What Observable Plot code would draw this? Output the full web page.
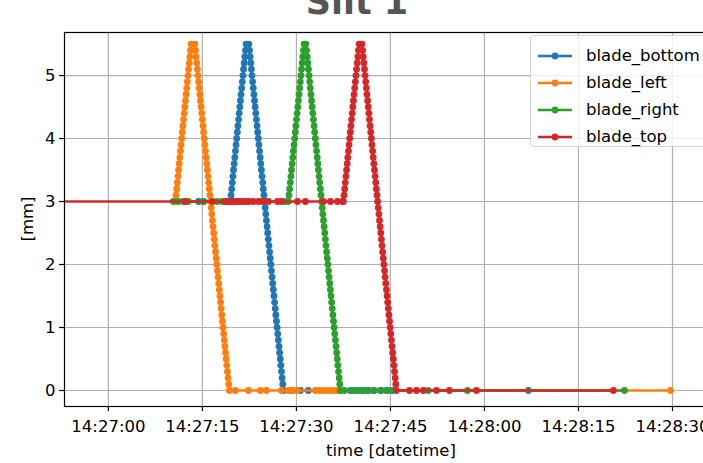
<!DOCTYPE html>
<html>
<head>
<meta charset="utf-8">
<script src="https://cdn.jsdelivr.net/npm/d3@7"></script>
<script src="https://cdn.jsdelivr.net/npm/@observablehq/plot@0.6"></script>
<style>
  html, body { margin: 0; padding: 0; background: #fff; overflow: hidden; }
  #wrap { position: relative; width: 703px; height: 463px; overflow: hidden; font-family: "DejaVu Sans", sans-serif; }
  #chart svg { max-width: none !important; display: block; }
  #legend { position: absolute; left: 530px; top: 35px; width: 200px; height: 112px; box-sizing: border-box;
            border: 1px solid #d4d4d4; border-radius: 4px; background: rgba(255,255,255,0.8); }
  .row { position: absolute; left: 0; height: 27px; display: flex; align-items: center; font-size: 16.5px; color: #000; white-space: nowrap; }
  .row svg { margin-left: 7px; margin-right: 14px; }
</style>
</head>
<body>
<div id="wrap"><div id="chart"></div><div id="legend"></div></div>
<script>
// ---- data (seconds after 14:27:00, values in mm) ----
const seriesNames = ["blade_bottom", "blade_left", "blade_right", "blade_top"];
const seriesColors = ["#1f77b4", "#ff7f0e", "#2ca02c", "#d62728"];
const holdLevel = 3;
const closedLevel = 0;
const sampleStep = 0.1; // s between samples while a blade moves

const riseValues = [3.0,3.1,3.2,3.3,3.4,3.5,3.6,3.7,3.8,3.9,4.0,4.1,4.2,4.3,4.4,4.5,4.6,4.7,4.8,4.9,5.0,5.1,5.2,5.3,5.4,5.5];
const fallValues = [5.5,5.4,5.3,5.2,5.1,5.0,4.9,4.8,4.7,4.6,4.5,4.4,4.3,4.2,4.1,4.0,3.9,3.8,3.7,3.6,3.5,3.4,3.3,3.2,3.1,3.0,
                    2.9,2.8,2.7,2.6,2.5,2.4,2.3,2.2,2.1,2.0,1.9,1.8,1.7,1.6,1.5,1.4,1.3,1.2,1.1,1.0,0.9,0.8,0.7,0.6,0.5,0.4,0.3,0.2,0.1,0.0];
const riseStart = [19.47, 10.7, 28.72, 37.5];
const fallStart = [22.42, 13.8, 31.52, 40.46];

const bottomHoldTimes = [14.4, 15.2, 19.1];
const bottomClosedTimes = [29.04, 30.64, 31.91, 38.6, 39.57, 40.53, 41.49, 42.44, 43.4, 44.36, 45.32, 67.02];
const leftHoldTimes = [];
const leftClosedTimes = [20.26, 22.34, 24.25, 25.21, 27.6, 28.72, 29.52, 30.16, 33.03, 33.67, 34.31, 34.95, 35.59, 36.23, 36.71, 89.68];
const rightHoldTimes = [10.37, 11.17, 11.97, 12.77, 15.16, 17.39, 18.19, 18.99, 19.95, 28.24];
const rightClosedTimes = [37.66, 38.93, 40.05, 41.17, 42.28, 43.56, 44.68, 51.06, 57.28, 82.34];
const topHoldTimes = [-10, 12.29, 16.6, 18.67, 19.15, 19.63, 20.1, 20.58, 21.06, 21.54, 22.02, 22.5, 23.14, 23.94, 24.57, 25.53, 26.97, 27.6, 30.16, 31.43, 34.31, 35.43, 36.54, 37.34];
const topClosedTimes = [48.03, 49.15, 50.26, 52.34, 54.41, 58.72, 80.58];

const tickSeconds = [0, 15, 30, 45, 60, 75, 90];
const yTicks = [0, 1, 2, 3, 4, 5];
const xDomainSeconds = [-7, 97.66];
const yDomain = [-0.254, 5.683];

// ---- build tables ----
const base = new Date(2000, 0, 1, 14, 27, 0);
const T = s => new Date(base.getTime() + s * 1000);
const holds = [bottomHoldTimes, leftHoldTimes, rightHoldTimes, topHoldTimes];
const closeds = [bottomClosedTimes, leftClosedTimes, rightClosedTimes, topClosedTimes];

const tables = seriesNames.map((name, i) => {
  const rows = [];
  holds[i].forEach(t => rows.push({t, v: holdLevel}));
  riseValues.forEach((v, k) => rows.push({t: riseStart[i] + k * sampleStep, v}));
  fallValues.forEach((v, k) => rows.push({t: fallStart[i] + k * sampleStep, v}));
  closeds[i].forEach(t => rows.push({t, v: closedLevel}));
  return rows.map(r => ({time: T(r.t), value: r.v, series: name}));
});

const marks = [
  Plot.gridX(tickSeconds.map(T), {stroke: "#b0b0b0", strokeOpacity: 1, strokeWidth: 1.2}),
  Plot.gridY(yTicks, {stroke: "#b0b0b0", strokeOpacity: 1, strokeWidth: 1.2})
];
tables.forEach((rows, i) => {
  marks.push(Plot.line(rows, {x: "time", y: "value", stroke: seriesColors[i], strokeWidth: 2.5, clip: true}));
  marks.push(Plot.dot(rows, {x: "time", y: "value", fill: seriesColors[i], r: 3.4, clip: true}));
});
marks.push(Plot.frame({stroke: "#000", strokeWidth: 1.2}));
marks.push(Plot.axisX(tickSeconds.map(T), {tickFormat: d3.timeFormat("%H:%M:%S"), tickSize: 5, tickPadding: 9, fontSize: 16.5, stroke: "#000", strokeWidth: 1.2, label: null}));
marks.push(Plot.axisY(yTicks, {tickFormat: d => String(d), tickSize: 5, tickPadding: 4, fontSize: 16.5, stroke: "#000", strokeWidth: 1.2, label: null}));

const chart = Plot.plot({
  width: 720, height: 463,
  marginLeft: 64, marginRight: 0, marginTop: 32, marginBottom: 57,
  style: {fontFamily: "DejaVu Sans, sans-serif", fontSize: "16.5px", color: "#000", background: "#fff", overflow: "visible", maxWidth: "none"},
  x: {type: "time", domain: xDomainSeconds.map(T)},
  y: {domain: yDomain},
  marks
});
chart.style.maxWidth = "none";
document.getElementById("chart").appendChild(chart);

// title and axis labels
const svg = d3.select(chart);
svg.append("text").attr("x", 357).attr("y", 14).attr("text-anchor", "middle")
  .attr("font-size", 35).attr("font-weight", "bold").attr("fill", "#555").text("Slit 1");
svg.append("text").attr("x", 391).attr("y", 456).attr("text-anchor", "middle")
  .attr("font-size", 16.5).attr("fill", "#000").text("time [datetime]");
svg.append("text").attr("transform", "translate(33,219) rotate(-90)").attr("text-anchor", "middle")
  .attr("font-size", 16.5).attr("fill", "#000").text("[mm]");

// legend
const legend = document.getElementById("legend");
seriesNames.forEach((name, i) => {
  const row = document.createElement("div");
  row.className = "row";
  row.style.top = (6 + i * 27) + "px";
  row.innerHTML = `<svg width="34" height="10"><line x1="0" x2="34" y1="5" y2="5" stroke="${seriesColors[i]}" stroke-width="2.5"/><circle cx="17" cy="5" r="3.4" fill="${seriesColors[i]}"/></svg><span>${name}</span>`;
  legend.appendChild(row);
});
</script>
</body>
</html>
